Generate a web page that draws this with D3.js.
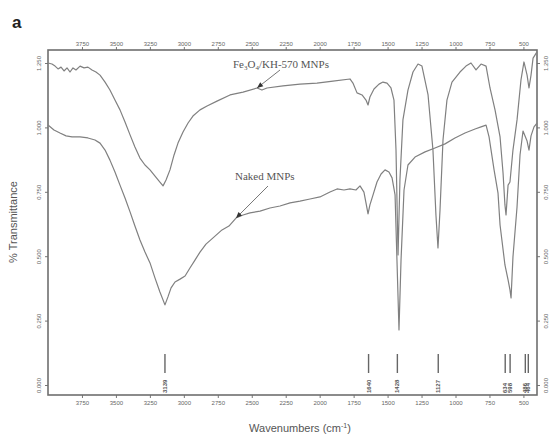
<!DOCTYPE html>
<html>
<head>
<meta charset="utf-8">
<script src="https://cdn.jsdelivr.net/npm/d3@7"></script>
<style>
	body { margin: 0; background: #fff; }
	svg { display: block; }
	.tick text { font-family: "Liberation Sans", Arial, sans-serif; font-size: 6px; fill: #666; }
	.tick line { stroke: #777; }
	.domain { display: none; }
</style>
</head>
<body>
<div id="chart"></div>
<script>
// wavenumber (cm-1) / transmittance pairs
var kh570Wave = [4000,3971,3948,3926,3904,3882,3860,3838,3816,3794,3764,3735,3706,3676,3647,3617,3580,3544,3507,3470,3433,3396,3360,3323,3286,3249,3212,3176,3153,3131,3102,3072,3043,3006,2969,2933,2881,2829,2756,2660,2564,2461,2425,2388,2270,2145,2020,1902,1777,1755,1725,1688,1659,1644,1630,1600,1563,1534,1504,1475,1453,1438,1423,1409,1387,1350,1313,1276,1247,1202,1166,1144,1129,1114,1092,1063,1026,967,923,886,849,812,775,746,709,672,650,636,628,613,599,577,547,518,496,473,459,444,429,400];
var kh570Trans = [1.250,1.246,1.238,1.227,1.234,1.219,1.231,1.215,1.231,1.223,1.238,1.231,1.234,1.223,1.215,1.203,1.176,1.145,1.106,1.068,1.021,0.971,0.924,0.881,0.854,0.835,0.811,0.788,0.773,0.796,0.835,0.893,0.939,0.982,1.017,1.044,1.068,1.083,1.102,1.126,1.137,1.153,1.145,1.153,1.161,1.168,1.172,1.180,1.188,1.172,1.134,1.126,1.106,1.087,1.118,1.149,1.168,1.176,1.172,1.153,1.106,0.912,0.505,0.796,1.029,1.145,1.215,1.246,1.238,1.126,0.912,0.660,0.532,0.679,0.951,1.106,1.176,1.215,1.238,1.250,1.223,1.246,1.238,1.153,1.068,0.963,0.823,0.699,0.660,0.776,0.788,0.912,1.029,1.184,1.254,1.203,1.153,1.203,1.269,1.293];

var nakedWave = [4000,3956,3912,3867,3823,3764,3706,3654,3617,3580,3544,3507,3470,3433,3396,3360,3323,3286,3249,3212,3176,3139,3117,3094,3065,3028,2991,2955,2918,2881,2837,2785,2719,2668,2616,2564,2513,2439,2366,2292,2218,2145,2071,1998,1924,1872,1821,1777,1733,1703,1674,1659,1644,1630,1607,1578,1548,1519,1490,1467,1445,1431,1416,1401,1379,1350,1298,1224,1151,1077,1004,930,856,812,775,753,716,687,672,636,613,599,591,577,547,525,503,473,459,444,422,400];
var nakedTrans = [1.009,0.990,0.978,0.967,0.963,0.963,0.959,0.951,0.939,0.912,0.873,0.827,0.776,0.726,0.672,0.617,0.563,0.516,0.474,0.415,0.361,0.311,0.342,0.377,0.400,0.411,0.423,0.454,0.485,0.516,0.547,0.571,0.602,0.617,0.648,0.660,0.668,0.675,0.687,0.695,0.707,0.714,0.722,0.730,0.749,0.761,0.757,0.761,0.757,0.773,0.749,0.707,0.664,0.699,0.738,0.788,0.819,0.835,0.827,0.804,0.738,0.485,0.214,0.485,0.757,0.854,0.885,0.905,0.920,0.936,0.959,0.978,0.994,1.002,1.009,0.963,0.835,0.745,0.621,0.466,0.408,0.369,0.338,0.497,0.691,0.893,0.986,0.947,0.912,0.967,1.002,1.017];

var xTicks = [3750,3500,3250,3000,2750,2500,2250,2000,1750,1500,1250,1000,750,500];
var yTicks = [0,0.25,0.5,0.75,1.0,1.25];

var peakWave = [3139,1640,1428,1127,634,598,486,464];
var peakLabels = ['3139','1640','1428','1127','634','598','486','464'];

(function() {
	var width = 549,
		height = 437,
		left = 48, right = 537, top = 50, bottom = 395;

	var svg = d3.select('#chart')
		.append('svg')
		.attr('width', width)
		.attr('height', height)
		.attr('viewBox', '0 0 ' + width + ' ' + height);

	var x = d3.scaleLinear().domain([4000, 400]).range([left, right]);
	var y = d3.scaleLinear().domain([0, 1.25]).range([385, 63]);

	// axes, ticks outside the frame
	svg.append('g')
		.attr('transform', 'translate(0,' + top + ')')
		.call(d3.axisTop(x).tickValues(xTicks).tickSize(3).tickPadding(1).tickFormat(d3.format('d')));

	svg.append('g')
		.attr('transform', 'translate(0,' + bottom + ')')
		.call(d3.axisBottom(x).tickValues(xTicks).tickSize(3).tickPadding(3).tickFormat(d3.format('d')));

	svg.append('g')
		.attr('transform', 'translate(' + left + ',0)')
		.call(d3.axisLeft(y).tickValues(yTicks).tickSize(3).tickFormat(d3.format('.3f')))
		.selectAll('text')
			.attr('transform', 'rotate(-90)')
			.attr('x', 0)
			.attr('y', -7)
			.attr('dy', 0)
			.attr('text-anchor', 'middle');

	svg.append('g')
		.attr('transform', 'translate(' + right + ',0)')
		.call(d3.axisRight(y).tickValues(yTicks).tickSize(3).tickFormat(d3.format('.3f')))
		.selectAll('text')
			.attr('transform', 'rotate(-90)')
			.attr('x', 0)
			.attr('y', 11)
			.attr('dy', 0)
			.attr('text-anchor', 'middle');

	// frame
	svg.append('rect')
		.attr('x', left)
		.attr('y', top)
		.attr('width', right - left)
		.attr('height', bottom - top)
		.attr('fill', 'none')
		.attr('stroke', '#6f6f6f')
		.attr('stroke-width', 1.6);

	var line = d3.line()
		.x(function(d) { return x(d[0]); })
		.y(function(d) { return y(d[1]); });

	var series = [d3.zip(kh570Wave, kh570Trans), d3.zip(nakedWave, nakedTrans)];

	svg.append('g')
		.selectAll('path')
		.data(series)
		.enter()
		.append('path')
		.attr('d', line)
		.attr('fill', 'none')
		.attr('stroke', '#808080')
		.attr('stroke-width', 1.2)
		.attr('stroke-linejoin', 'round');

	// peak markers at the bottom
	var peaks = svg.append('g')
		.selectAll('g')
		.data(d3.zip(peakWave, peakLabels))
		.enter()
		.append('g')
		.attr('transform', function(d) { return 'translate(' + x(d[0]) + ',0)'; });

	peaks.append('line')
		.attr('y1', 354)
		.attr('y2', 373)
		.attr('stroke', '#666')
		.attr('stroke-width', 1.4);

	peaks.append('text')
		.text(function(d) { return d[1]; })
		.attr('transform', 'translate(2,393) rotate(-90)')
		.attr('font-family', 'Liberation Sans, Arial, sans-serif')
		.attr('font-size', 6)
		.attr('font-weight', 'bold')
		.attr('fill', '#555');

	// annotations
	var serif = 'Liberation Serif, Times New Roman, serif';

	var kh = svg.append('text')
		.attr('x', 233)
		.attr('y', 68)
		.attr('font-family', serif)
		.attr('font-size', 11)
		.attr('fill', '#555');
	kh.append('tspan').text('Fe');
	kh.append('tspan').text('3').attr('font-size', 7).attr('dy', 2);
	kh.append('tspan').text('O').attr('dy', -2);
	kh.append('tspan').text('4').attr('font-size', 7).attr('dy', 2);
	kh.append('tspan').text('/KH-570 MNPs').attr('dy', -2);

	svg.append('text')
		.attr('x', 235)
		.attr('y', 180)
		.attr('font-family', serif)
		.attr('font-size', 11)
		.attr('fill', '#555')
		.text('Naked MNPs');

	var leaders = [
		{from: [280, 70], to: [x(2461), y(1.153)]},
		{from: [268, 186], to: [x(2616), y(0.648)]}
	];

	svg.append('g')
		.selectAll('line')
		.data(leaders)
		.enter()
		.append('line')
		.attr('x1', function(d) { return d.from[0]; })
		.attr('y1', function(d) { return d.from[1]; })
		.attr('x2', function(d) { return d.to[0]; })
		.attr('y2', function(d) { return d.to[1]; })
		.attr('stroke', '#777')
		.attr('stroke-width', 1);

	// small arrow heads pointing at the curves
	svg.append('g')
		.selectAll('path')
		.data(leaders)
		.enter()
		.append('path')
		.attr('d', 'M0,0 L6,-2.5 L6,2.5 Z')
		.attr('transform', function(d) {
			var a = Math.atan2(d.from[1] - d.to[1], d.from[0] - d.to[0]) * 180 / Math.PI;
			return 'translate(' + d.to[0] + ',' + d.to[1] + ') rotate(' + a + ')';
		})
		.attr('fill', '#333');

	// titles
	svg.append('text')
		.attr('x', 12)
		.attr('y', 28)
		.attr('font-family', 'Liberation Sans, Arial, sans-serif')
		.attr('font-size', 17)
		.attr('font-weight', 'bold')
		.attr('fill', '#222')
		.text('a');

	var xt = svg.append('text')
		.attr('x', 300)
		.attr('y', 432)
		.attr('text-anchor', 'middle')
		.attr('font-family', 'Liberation Sans, Arial, sans-serif')
		.attr('font-size', 11)
		.attr('fill', '#555');
	xt.append('tspan').text('Wavenumbers (cm');
	xt.append('tspan').text('-1').attr('font-size', 7).attr('dy', -4);
	xt.append('tspan').text(')').attr('dy', 4);

	svg.append('text')
		.attr('transform', 'translate(17,222) rotate(-90)')
		.attr('text-anchor', 'middle')
		.attr('font-family', 'Liberation Sans, Arial, sans-serif')
		.attr('font-size', 11)
		.attr('fill', '#555')
		.text('% Transmittance');
})();
</script>
</body>
</html>
